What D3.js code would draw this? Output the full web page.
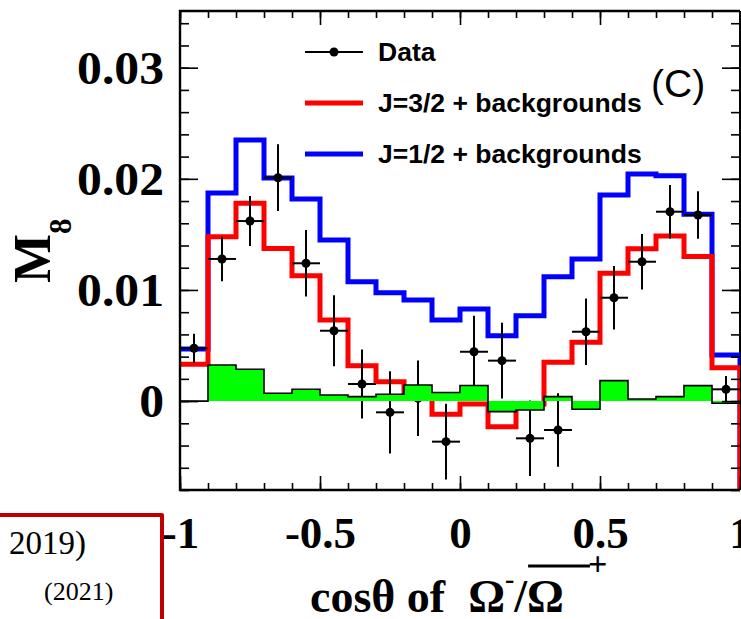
<!DOCTYPE html>
<html>
<head>
<meta charset="utf-8">
<script src="https://cdn.jsdelivr.net/npm/d3@7"></script>
<style>
  body { margin: 0; background: #fff; }
  svg { display: block; }
</style>
</head>
<body>
<svg id="chart" width="741" height="619"></svg>
<script>
// Bin centres of the cos(theta) histogram (20 bins, width 0.1)
const binCenters = [-0.95, -0.85, -0.75, -0.65, -0.55, -0.45, -0.35, -0.25, -0.15, -0.05,
                     0.05,  0.15,  0.25,  0.35,  0.45,  0.55,  0.65,  0.75,  0.85,  0.95];
const binWidth = 0.1;

// J=1/2 + backgrounds
const spinHalf = [0.00469, 0.01872, 0.02349, 0.02008, 0.01819, 0.01450, 0.01074, 0.00975, 0.00910, 0.00730,
                  0.00829, 0.00588, 0.00768, 0.01119, 0.01279, 0.01854, 0.02043, 0.02028, 0.01681, 0.00415];
// J=3/2 + backgrounds
const spinThreeHalves = [0.00331, 0.01479, 0.01780, 0.01373, 0.01128, 0.00730, 0.00319, 0.00175, 0.00060, -0.00119,
                         -0.00026, -0.00230, -0.00026, 0.00349, 0.00529, 0.01150, 0.01370, 0.01485, 0.01300, 0.00301];
// Background contribution (filled)
const backgrounds = [0.00000, 0.00325, 0.00286, 0.00070, 0.00106, 0.00055, 0.00040, 0.00061, 0.00145, 0.00077,
                     0.00140, -0.00095, -0.00080, 0.00040, -0.00074, 0.00184, 0.00019, 0.00040, 0.00139, -0.00020];
// Data with statistical errors
const dataValues = [0.00475, 0.01279, 0.01620, 0.02010, 0.01240, 0.00633, 0.00154, -0.00101, 0.00025, -0.00365,
                    0.00444, 0.00364, -0.00335, -0.00260, 0.00624, 0.00930, 0.01254, 0.01704, 0.01674, 0.00106];
const dataErrors = [0.0013, 0.0020, 0.00225, 0.0030, 0.0030, 0.0032, 0.0031, 0.0037, 0.0034, 0.0034,
                    0.00325, 0.0034, 0.0034, 0.0033, 0.0030, 0.00285, 0.0025, 0.0024, 0.00214, 0.0012];

// Axis ticks
const xTickValues = [-1, -0.5, 0, 0.5, 1];
const xTickLabels = ["-1", "-0.5", "0", "0.5", "1"];
const yTickValues = [0, 0.01, 0.02, 0.03];
const yTickLabels = ["0", "0.01", "0.02", "0.03"];

const legendLabels = ["Data", "J=3/2 + backgrounds", "J=1/2 + backgrounds"];

const svg = d3.select("#chart");
const x = d3.scaleLinear().domain([-1, 1]).range([180, 740]);
const y = d3.scaleLinear().domain([-0.008, 0.0351]).range([490, 11]);
const [x0, x1] = x.range();
const [yb, yt] = y.range();

const serif = "'Liberation Serif', 'Times New Roman', serif";
const sans = "'Liberation Sans', Arial, Helvetica, sans-serif";

svg.append("defs").append("clipPath").attr("id", "frameClip")
  .append("rect").attr("x", x0).attr("y", yt).attr("width", x1 - x0).attr("height", yb - yt);

// right edge of the frame sits underneath the histograms
svg.append("line").attr("x1", x1).attr("x2", x1).attr("y1", yt).attr("y2", yb)
  .attr("stroke", "#000").attr("stroke-width", 2);

// Step outline of a histogram; the last edge drops to the given floor
function stepPoints(values, floor) {
  const pts = [];
  values.forEach((v, i) => {
    pts.push([binCenters[i] - binWidth / 2, v]);
    pts.push([binCenters[i] + binWidth / 2, v]);
  });
  pts.push([binCenters[binCenters.length - 1] + binWidth / 2, floor]);
  return pts;
}
const line = d3.line().x(d => x(d[0])).y(d => y(d[1]));
const yMin = y.domain()[0];

const plot = svg.append("g").attr("clip-path", "url(#frameClip)");
plot.append("path").attr("d", line(stepPoints(spinHalf, yMin)))
  .attr("fill", "none").attr("stroke", "#0000ff").attr("stroke-width", 5);
plot.append("path").attr("d", line(stepPoints(spinThreeHalves, yMin)))
  .attr("fill", "none").attr("stroke", "#ff0000").attr("stroke-width", 5);

// Data points with error bars
const pts = plot.append("g").attr("class", "data");
binCenters.forEach((c, i) => {
  const v = dataValues[i], e = dataErrors[i];
  pts.append("line").attr("x1", x(c)).attr("x2", x(c))
    .attr("y1", y(v - e)).attr("y2", y(v + e))
    .attr("stroke", "#000").attr("stroke-width", 2);
  pts.append("line").attr("x1", x(c - binWidth / 2)).attr("x2", x(c + binWidth / 2))
    .attr("y1", y(v)).attr("y2", y(v))
    .attr("stroke", "#000").attr("stroke-width", 2);
  pts.append("circle").attr("cx", x(c)).attr("cy", y(v)).attr("r", 4.5).attr("fill", "#000");
});

// Background histogram: green fill from zero, black step outline
const bgStep = stepPoints(backgrounds, 0).slice(0, -1);
const bgArea = [[bgStep[0][0], 0], ...bgStep, [bgStep[bgStep.length - 1][0], 0]];
plot.append("path").attr("d", line(bgArea) + "Z")
  .attr("fill", "#00ff00").attr("stroke", "none");
plot.append("path").attr("d", line(bgStep))
  .attr("fill", "none").attr("stroke", "#000").attr("stroke-width", 1.6);

// Axes (ticks on all four sides, pointing inward)
function styleAxis(g) {
  g.select(".domain").remove();
  g.selectAll(".tick line").attr("stroke", "#000").attr("stroke-width", 1.6);
}
const xMinor = x.ticks(20);
const yMinor = d3.range(-4, 18).map(k => k * 0.002);

svg.append("g").attr("transform", `translate(0,${yb})`)
  .call(d3.axisBottom(x).tickValues(xMinor).tickSize(-7).tickFormat(""))
  .call(styleAxis);
svg.append("g").attr("transform", `translate(0,${yt})`)
  .call(d3.axisTop(x).tickValues(xMinor).tickSize(-7).tickFormat(""))
  .call(styleAxis);
svg.append("g").attr("transform", `translate(0,${yt})`)
  .call(d3.axisTop(x).tickValues(xTickValues).tickSize(-14).tickFormat(""))
  .call(styleAxis);
const xAxis = svg.append("g").attr("transform", `translate(0,${yb})`)
  .call(d3.axisBottom(x).tickValues(xTickValues).tickSize(-14)
    .tickFormat((d, i) => xTickLabels[i]))
  .call(styleAxis);
xAxis.selectAll(".tick text")
  .attr("y", 58).attr("dy", 0)
  .attr("font-family", serif).attr("font-weight", "bold").attr("font-size", 45)
  .attr("fill", "#000");

svg.append("g").attr("transform", `translate(${x0},0)`)
  .call(d3.axisLeft(y).tickValues(yMinor).tickSize(-9).tickFormat(""))
  .call(styleAxis);
svg.append("g").attr("transform", `translate(${x1},0)`)
  .call(d3.axisRight(y).tickValues(yMinor).tickSize(-9).tickFormat(""))
  .call(styleAxis);
svg.append("g").attr("transform", `translate(${x1},0)`)
  .call(d3.axisRight(y).tickValues(yTickValues).tickSize(-18).tickFormat(""))
  .call(styleAxis);
const yAxis = svg.append("g").attr("transform", `translate(${x0},0)`)
  .call(d3.axisLeft(y).tickValues(yTickValues).tickSize(-18)
    .tickFormat((d, i) => yTickLabels[i]))
  .call(styleAxis);
yAxis.selectAll(".tick text")
  .attr("x", 0).attr("dy", "0.34em")
  .attr("transform", "translate(-16,0) scale(1.08,1)")
  .attr("font-family", serif).attr("font-weight", "bold").attr("font-size", 46)
  .attr("fill", "#000");

// Frame: left, top and bottom edges drawn over the histograms
svg.append("path")
  .attr("d", `M${x1},${yt}H${x0}V${yb}H${x1}`)
  .attr("fill", "none").attr("stroke", "#000").attr("stroke-width", 2.4);

// Axis titles
const yTitle = svg.append("text")
  .attr("transform", "translate(50,283) rotate(-90)")
  .attr("font-family", serif).attr("font-weight", "bold").attr("fill", "#000");
yTitle.append("tspan").attr("font-size", 52).text("M");
yTitle.append("tspan").attr("font-size", 31).attr("dy", 21).text("8");

const xTitle = svg.append("text")
  .attr("x", 310).attr("y", 612)
  .attr("font-family", serif).attr("font-weight", "bold").attr("font-size", 46)
  .attr("fill", "#000").attr("xml:space", "preserve");
xTitle.append("tspan").text("cosθ of  Ω");
xTitle.append("tspan").attr("font-size", 28).attr("dy", -24).text("-");
xTitle.append("tspan").attr("dy", 24).text("/");
xTitle.append("tspan").text("Ω");
xTitle.append("tspan").attr("font-size", 34).attr("dx", 24).attr("dy", -37).text("+");
// bar over the second Omega
{
  const node = xTitle.node();
  const n = node.getNumberOfChars();
  const omega = node.getExtentOfChar(n - 2);
  svg.append("line")
    .attr("x1", omega.x + 1).attr("x2", omega.x + omega.width + 26)
    .attr("y1", 566).attr("y2", 566)
    .attr("stroke", "#000").attr("stroke-width", 3);
}

// Legend
const legend = svg.append("g");
const legY = [52, 103, 154];
legend.append("line").attr("x1", 305).attr("x2", 363).attr("y1", legY[0]).attr("y2", legY[0])
  .attr("stroke", "#000").attr("stroke-width", 2);
legend.append("circle").attr("cx", 334).attr("cy", legY[0]).attr("r", 4.5).attr("fill", "#000");
legend.append("line").attr("x1", 305).attr("x2", 363).attr("y1", legY[1]).attr("y2", legY[1])
  .attr("stroke", "#ff0000").attr("stroke-width", 5);
legend.append("line").attr("x1", 305).attr("x2", 363).attr("y1", legY[2]).attr("y2", legY[2])
  .attr("stroke", "#0000ff").attr("stroke-width", 5);
legendLabels.forEach((t, i) => {
  legend.append("text").attr("x", 378).attr("y", legY[i] + 9)
    .attr("font-family", sans).attr("font-weight", "bold").attr("font-size", 26.5)
    .attr("fill", "#000").text(t);
});

// Panel tag
svg.append("text").attr("x", 651).attr("y", 97)
  .attr("font-family", sans).attr("font-size", 39).attr("fill", "#000").text("(C)");

// Reference box in the lower left corner
svg.append("path").attr("d", "M0,515H162V619")
  .attr("fill", "none").attr("stroke", "#c00000").attr("stroke-width", 4)
  .attr("stroke-linejoin", "round");
svg.append("text").attr("x", 86).attr("y", 554).attr("text-anchor", "end")
  .attr("font-family", serif).attr("font-size", 33).attr("fill", "#000").text("2019)");
svg.append("text").attr("x", 44).attr("y", 600)
  .attr("font-family", serif).attr("font-size", 26).attr("fill", "#000").text("(2021)");
</script>
</body>
</html>
